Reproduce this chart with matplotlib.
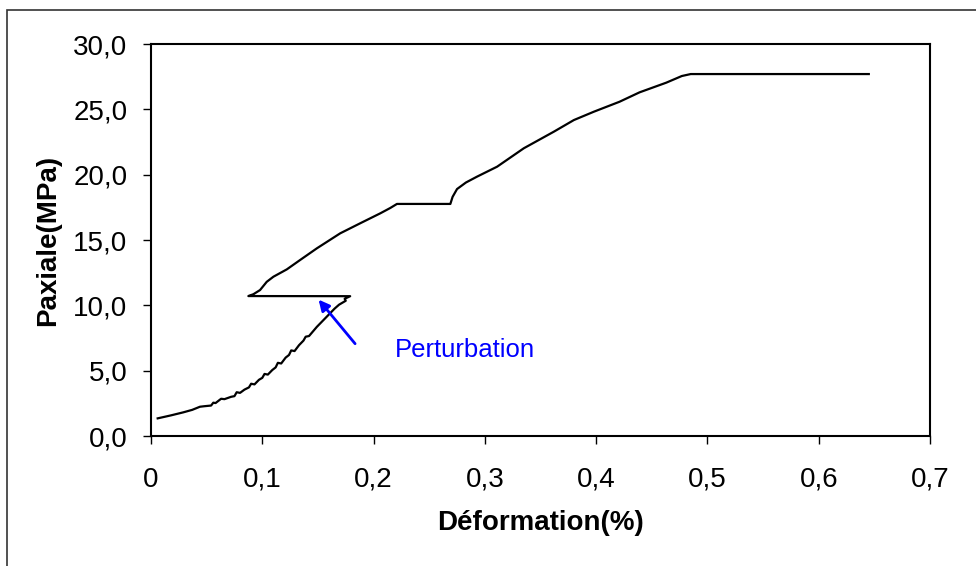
import matplotlib
matplotlib.use("Agg")
import matplotlib.pyplot as plt
from matplotlib.patches import Rectangle
from matplotlib.ticker import FuncFormatter

plt.rcParams['font.family'] = ['Liberation Sans', 'DejaVu Sans']

# courbe contrainte / deformation
deformation = [0.006, 0.018, 0.029, 0.037, 0.044, 0.048, 0.054, 0.056, 0.058, 0.063,
               0.066, 0.072, 0.075, 0.077, 0.080, 0.084, 0.088, 0.090, 0.093, 0.097,
               0.100, 0.102, 0.105, 0.109, 0.112, 0.114, 0.117, 0.121, 0.124, 0.126,
               0.129, 0.133, 0.137, 0.139, 0.142, 0.146, 0.149, 0.153, 0.157, 0.161,
               0.165, 0.169, 0.172, 0.175, 0.174, 0.179,
               0.0875,
               0.092, 0.098, 0.104, 0.110, 0.122, 0.134, 0.149, 0.170, 0.188, 0.206,
               0.215, 0.221, 0.269, 0.271, 0.275, 0.283, 0.293, 0.311, 0.335, 0.362,
               0.380, 0.398, 0.421, 0.439, 0.463, 0.477, 0.485, 0.645]
paxiale = [1.35, 1.58, 1.81, 2.00, 2.24, 2.28, 2.33, 2.55, 2.52, 2.85,
           2.82, 3.00, 3.05, 3.35, 3.30, 3.55, 3.72, 4.00, 3.95, 4.30,
           4.45, 4.75, 4.70, 5.05, 5.25, 5.60, 5.55, 6.00, 6.20, 6.55,
           6.50, 6.95, 7.30, 7.60, 7.65, 8.05, 8.35, 8.70, 9.05, 9.40,
           9.75, 10.05, 10.20, 10.35, 10.50, 10.70,
           10.71,
           10.85, 11.17, 11.80, 12.19, 12.75, 13.47, 14.36, 15.51, 16.28, 17.04,
           17.45, 17.76, 17.76, 18.30, 18.90, 19.40, 19.85, 20.61, 22.02, 23.29,
           24.18, 24.82, 25.58, 26.30, 27.04, 27.55, 27.70, 27.70]

fleche_debut = (0.185, 6.9)
fleche_fin = (0.149, 10.6)

fig = plt.figure(figsize=(9.76, 5.66), dpi=100)
# cadre exterieur (seuls les bords gauche et haut sont visibles)
fig.patches.append(Rectangle((7/976, -0.1), 1.2, 1 - 10/566 + 0.1, transform=fig.transFigure,
                             fill=False, edgecolor='#333333', linewidth=1.2))

ax = fig.add_axes([151/976, 1 - 436/566, 779/976, 392/566])
ax.plot(deformation, paxiale, color='black', linewidth=1.6)

ax.annotate('', xy=fleche_fin, xytext=fleche_debut,
            arrowprops=dict(arrowstyle='-|>', color='blue', linewidth=2, mutation_scale=16))
ax.text(0.219, 6.6, 'Perturbation', color='blue', fontsize=18.5, va='center', ha='left')

ax.set_xlim(0, 0.7)
ax.set_ylim(0, 30)
ax.set_xticks([0, 0.1, 0.2, 0.3, 0.4, 0.5, 0.6, 0.7])
ax.set_yticks([0, 5, 10, 15, 20, 25, 30])
ax.xaxis.set_major_formatter(FuncFormatter(lambda v, p: ('%g' % round(v, 1)).replace('.', ',')))
ax.yaxis.set_major_formatter(FuncFormatter(lambda v, p: ('%.1f' % v).replace('.', ',')))
ax.tick_params(direction='out', length=6, width=1, colors='black', labelsize=20)
ax.tick_params(axis='x', pad=16)
ax.tick_params(axis='y', pad=11)
for s in ax.spines.values():
    s.set_linewidth(1.5)

ax.set_xlabel('Déformation(%)', fontsize=20, fontweight='bold', va='center')
ax.set_ylabel('Paxiale(MPa)', fontsize=20, fontweight='bold', va='center')
ax.xaxis.set_label_coords(0.5, (436 - 523) / 392)
ax.yaxis.set_label_coords((48 - 151) / 779, 0.5)

fig.savefig('out.png', dpi=100)
